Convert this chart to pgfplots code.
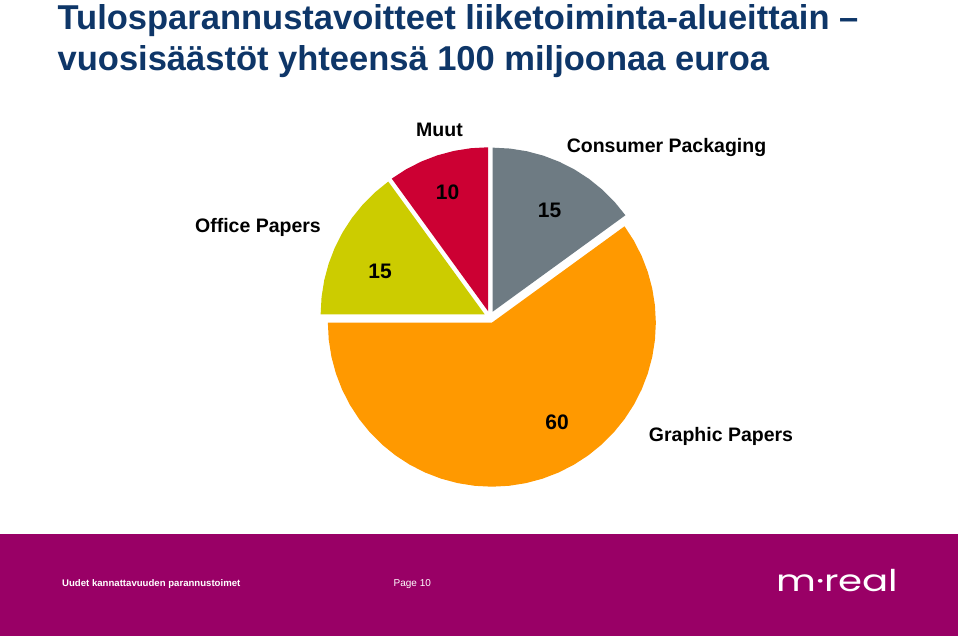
\documentclass[border=0pt]{standalone}
\usepackage{fontspec}
\setmainfont{Liberation Sans}
\newfontfamily\logofont{Poppins}
\usepackage{pgfplots}
\pgfplotsset{compat=1.18}
\definecolor{titleblue}{RGB}{14,54,104}
\definecolor{footer}{RGB}{153,0,102}
\definecolor{cgray}{RGB}{110,123,131}
\definecolor{cred}{RGB}{204,0,51}
\definecolor{cyellow}{RGB}{204,204,0}
\definecolor{corange}{RGB}{255,153,0}
\begin{document}
\begin{tikzpicture}[x=1pt,y=1pt]
\useasboundingbox (0,0) rectangle (960,-639);
\fill[white] (0,0) rectangle (960,-639);
% title
\node[anchor=base west, inner sep=0, text=titleblue, font=\bfseries\fontsize{34.5}{40}\selectfont] at (57.5,-30) {Tulosparannustavoitteet liiketoiminta-alueittain –};
\node[anchor=base west, inner sep=0, text=titleblue, font=\bfseries\fontsize{34.5}{40}\selectfont] at (57.5,-71) {vuosisäästöt yhteensä 100 miljoonaa euroa};
% footer
\fill[footer] (0,-534) rectangle (958,-636);
\node[anchor=base west, inner sep=0, text=white, font=\bfseries\fontsize{9.6}{11}\selectfont] at (62,-586) {Uudet kannattavuuden parannustoimet};
\node[anchor=base west, inner sep=0, text=white, font=\fontsize{10}{12}\selectfont] at (393.5,-586) {Page 10};
\node[anchor=base west, inner sep=0, text=white, font=\logofont\fontsize{30}{32}\selectfont] at (776,-591) {\scalebox{1.29}[1]{m·real}};
% pie
\begin{axis}[
  at={(490,-317)}, anchor=center,
  x=1pt, y=1pt,
  xmin=-200, xmax=200, ymin=-200, ymax=200,
  hide axis, clip=false,
]
% Consumer Packaging 15 -> 54 deg, 90..36
\addplot[fill=cgray, draw=none, data cs=polar, xshift=2.72pt, yshift=5.35pt] coordinates {
 (0,0) (90,164) (84,164) (78,164) (72,164) (66,164) (60,164) (54,164) (48,164) (42,164) (36,164)} -- cycle;
% Graphic Papers 60 -> 216 deg, 36..-180
\addplot[fill=corange, draw=none, data cs=polar, xshift=1.85pt, yshift=-5.71pt] coordinates {
 (0,0) (36,164) (30,164) (24,164) (18,164) (12,164) (6,164) (0,164) (-6,164) (-12,164) (-18,164) (-24,164) (-30,164) (-36,164) (-42,164) (-48,164) (-54,164) (-60,164) (-66,164) (-72,164) (-78,164) (-84,164) (-90,164) (-96,164) (-102,164) (-108,164) (-114,164) (-120,164) (-126,164) (-132,164) (-138,164) (-144,164) (-150,164) (-156,164) (-162,164) (-168,164) (-174,164) (-180,164)} -- cycle;
% Office Papers 15 -> 54 deg, 180..126
\addplot[fill=cyellow, draw=none, data cs=polar, xshift=-5.35pt, yshift=2.72pt] coordinates {
 (0,0) (180,164) (174,164) (168,164) (162,164) (156,164) (150,164) (144,164) (138,164) (132,164) (126,164)} -- cycle;
% Muut 10 -> 36 deg, 126..90
\addplot[fill=cred, draw=none, data cs=polar, xshift=-1.85pt, yshift=5.71pt] coordinates {
 (0,0) (126,164) (120,164) (114,164) (108,164) (102,164) (96,164) (90,164)} -- cycle;
\end{axis}
% labels
\begin{scope}[every node/.style={inner sep=0, font=\bfseries\fontsize{19.5}{22}\selectfont}]
\node at (439.5,-130) {Muut};
\node at (666.5,-148) {Consumer Packaging};
\node at (258,-227) {Office Papers};
\node at (721,-436) {Graphic Papers};
\end{scope}
\begin{scope}[every node/.style={inner sep=0, font=\bfseries\fontsize{21}{24}\selectfont}]
\node at (447.5,-192) {10};
\node at (549.5,-210) {15};
\node at (380,-271) {15};
\node at (557,-422) {60};
\end{scope}
\end{tikzpicture}
\end{document}
